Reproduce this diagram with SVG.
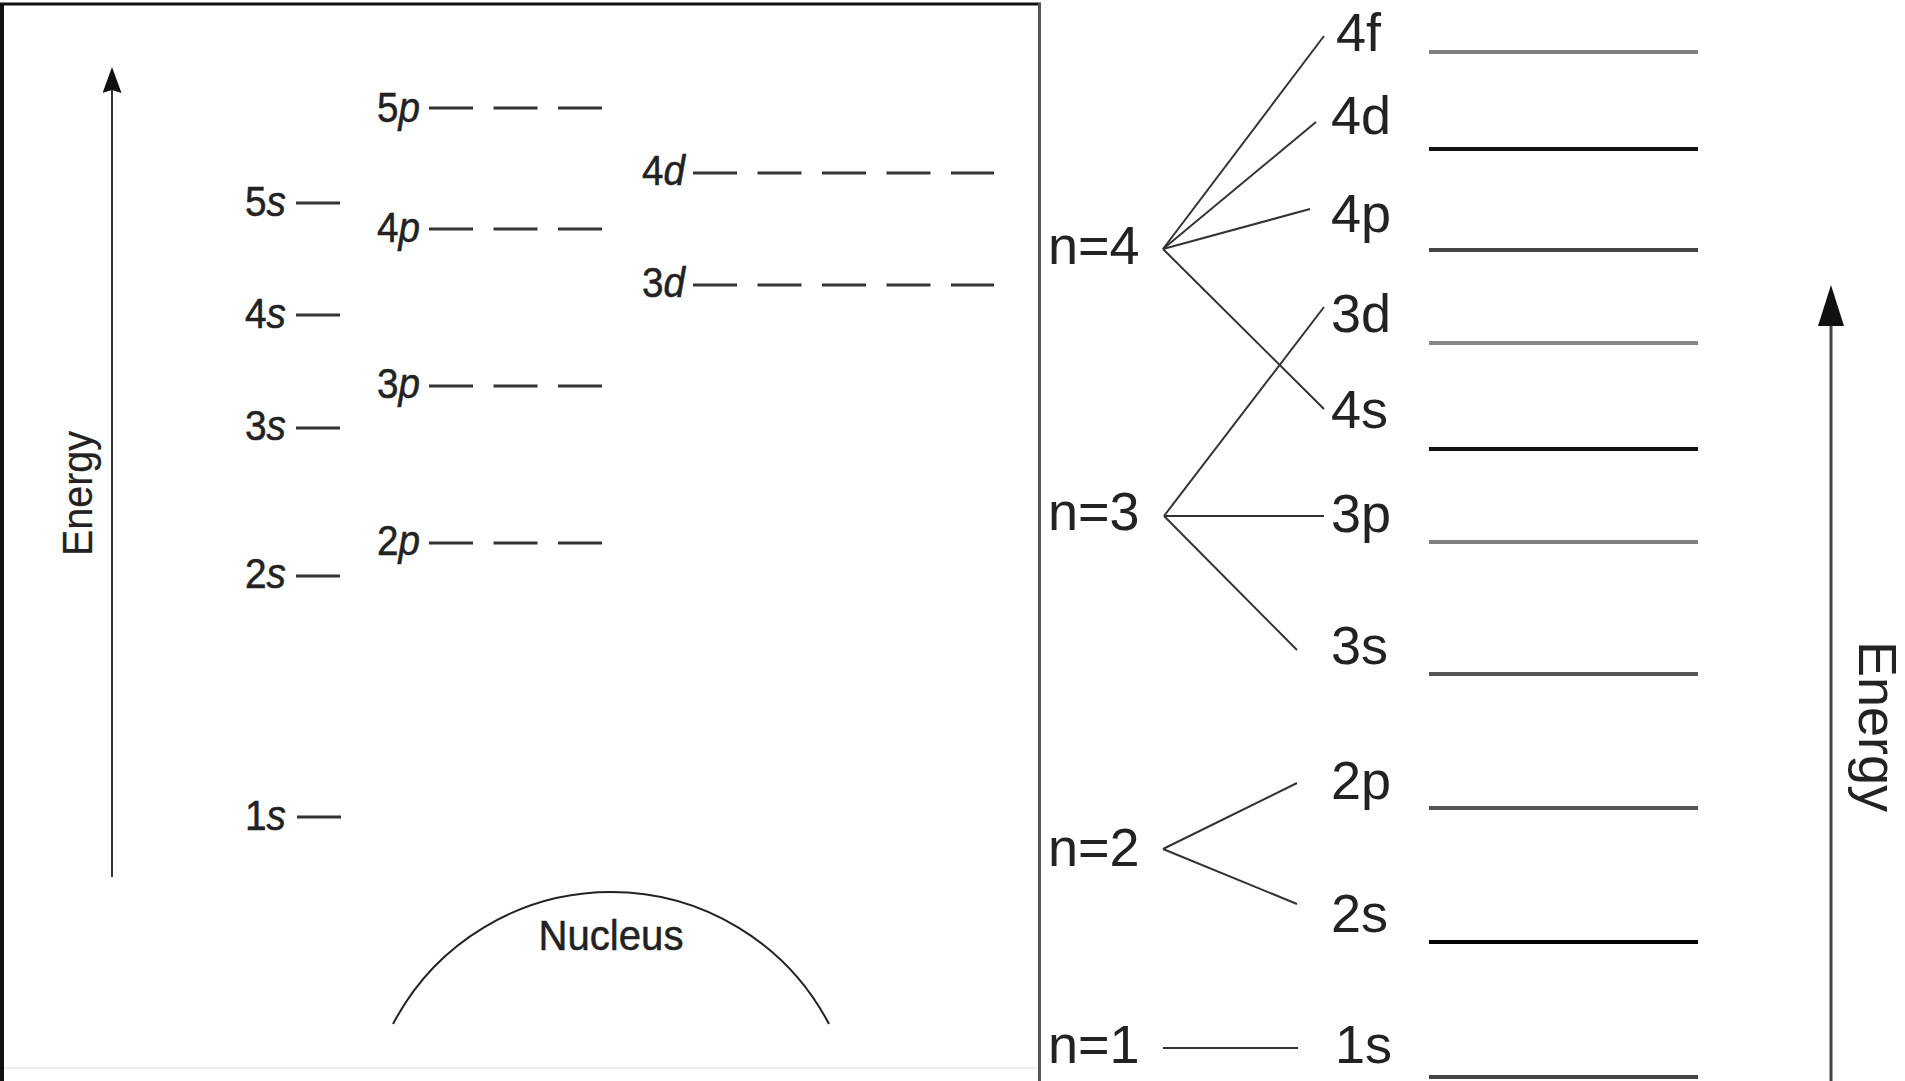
<svg xmlns="http://www.w3.org/2000/svg" width="1905" height="1081" viewBox="0 0 1905 1081">
<defs>
<style>
.lbl{font-family:"Liberation Sans",Arial,sans-serif;font-size:42px;fill:#222;stroke:#222;stroke-width:0.5}
.it{font-style:italic}
.dash{stroke:#333;stroke-width:3;stroke-dasharray:44 20.5;fill:none}
.sl{stroke:#333;stroke-width:3;fill:none}
.rl{font-family:"Liberation Sans",Arial,sans-serif;font-size:54px;fill:#222}
.conn{stroke:#333;stroke-width:2;fill:none}
.lv{fill:none;stroke-width:4}
</style>
<marker id="ahL" viewBox="0 0 26 19" markerWidth="26" markerHeight="19" refX="3" refY="9.5" markerUnits="userSpaceOnUse" orient="auto">
<path d="M0,0 L26,9.5 L0,19 L3,9.5 Z" fill="#111"/>
</marker>
<marker id="ahR" viewBox="0 0 41 26" markerWidth="41" markerHeight="26" refX="0" refY="13" markerUnits="userSpaceOnUse" orient="auto">
<path d="M0,0 L41,13 L0,26 Z" fill="#111"/>
</marker>
</defs>
<rect x="0" y="0" width="1905" height="1081" fill="#fff"/>

<g id="left-frame">
<line x1="0" y1="4" x2="1041" y2="4" stroke="#111" stroke-width="3"/>
<line x1="2" y1="3" x2="2" y2="1081" stroke="#111" stroke-width="4"/>
<line x1="1039.5" y1="3" x2="1039.5" y2="1081" stroke="#555" stroke-width="3"/>
<line x1="4" y1="1068" x2="1038" y2="1068" stroke="#eee" stroke-width="2"/>
</g>

<g id="left-energy-axis">
<line x1="112" y1="877" x2="112" y2="90" stroke="#333" stroke-width="2" marker-end="url(#ahL)"/>
<text class="lbl" transform="translate(92,556) rotate(-90)" textLength="125" lengthAdjust="spacingAndGlyphs" style="stroke-width:0.2">Energy</text>
</g>

<g id="lvl-5p"><text class="lbl" x="377" y="122" textLength="43" lengthAdjust="spacingAndGlyphs">5<tspan class="it">p</tspan></text><line class="dash" x1="429" y1="108" x2="603" y2="108"/></g>
<g id="lvl-4p"><text class="lbl" x="377" y="242" textLength="43" lengthAdjust="spacingAndGlyphs">4<tspan class="it">p</tspan></text><line class="dash" x1="429" y1="229" x2="603" y2="229"/></g>
<g id="lvl-3p"><text class="lbl" x="377" y="398" textLength="43" lengthAdjust="spacingAndGlyphs">3<tspan class="it">p</tspan></text><line class="dash" x1="429" y1="386" x2="603" y2="386"/></g>
<g id="lvl-2p"><text class="lbl" x="377" y="555" textLength="43" lengthAdjust="spacingAndGlyphs">2<tspan class="it">p</tspan></text><line class="dash" x1="429" y1="543" x2="603" y2="543"/></g>
<g id="lvl-5s"><text class="lbl" x="245" y="216" textLength="41" lengthAdjust="spacingAndGlyphs">5<tspan class="it">s</tspan></text><line class="sl" x1="296" y1="203" x2="340" y2="203"/></g>
<g id="lvl-4s"><text class="lbl" x="245" y="328" textLength="41" lengthAdjust="spacingAndGlyphs">4<tspan class="it">s</tspan></text><line class="sl" x1="296" y1="315" x2="340" y2="315"/></g>
<g id="lvl-3s"><text class="lbl" x="245" y="440" textLength="41" lengthAdjust="spacingAndGlyphs">3<tspan class="it">s</tspan></text><line class="sl" x1="296" y1="428" x2="340" y2="428"/></g>
<g id="lvl-2s"><text class="lbl" x="245" y="588" textLength="41" lengthAdjust="spacingAndGlyphs">2<tspan class="it">s</tspan></text><line class="sl" x1="296" y1="576" x2="340" y2="576"/></g>
<g id="lvl-1s"><text class="lbl" x="245" y="830" textLength="41" lengthAdjust="spacingAndGlyphs">1<tspan class="it">s</tspan></text><line class="sl" x1="297" y1="817" x2="341" y2="817"/></g>
<g id="lvl-4d"><text class="lbl" x="642" y="185" textLength="43" lengthAdjust="spacingAndGlyphs">4<tspan class="it">d</tspan></text><line class="dash" x1="693" y1="173" x2="994" y2="173"/></g>
<g id="lvl-3d"><text class="lbl" x="642" y="297" textLength="43" lengthAdjust="spacingAndGlyphs">3<tspan class="it">d</tspan></text><line class="dash" x1="693" y1="285" x2="994" y2="285"/></g>

<g id="nucleus">
<path d="M393,1024 A246,246 0 0 1 829,1024" fill="none" stroke="#222" stroke-width="2"/>
<text class="lbl" x="611" y="950" text-anchor="middle" textLength="145" lengthAdjust="spacingAndGlyphs">Nucleus</text>
</g>

<g id="shell-n4"><text class="rl" x="1048" y="264">n=4</text></g>
<g id="shell-n3"><text class="rl" x="1048" y="530">n=3</text></g>
<g id="shell-n2"><text class="rl" x="1048" y="866">n=2</text></g>
<g id="shell-n1"><text class="rl" x="1048" y="1063">n=1</text></g>

<g id="sub-4f"><text class="rl" x="1336" y="51">4f</text></g>
<g id="sub-4d"><text class="rl" x="1331" y="134">4d</text></g>
<g id="sub-4p"><text class="rl" x="1331" y="232">4p</text></g>
<g id="sub-3d"><text class="rl" x="1331" y="332">3d</text></g>
<g id="sub-4s"><text class="rl" x="1331" y="428">4s</text></g>
<g id="sub-3p"><text class="rl" x="1331" y="532">3p</text></g>
<g id="sub-3s"><text class="rl" x="1331" y="664">3s</text></g>
<g id="sub-2p"><text class="rl" x="1331" y="799">2p</text></g>
<g id="sub-2s"><text class="rl" x="1331" y="932">2s</text></g>
<g id="sub-1s"><text class="rl" x="1335" y="1063">1s</text></g>

<g id="energy-levels">
<line class="lv" x1="1429" y1="52" x2="1698" y2="52" stroke="#808080"/>
<line class="lv" x1="1429" y1="149" x2="1698" y2="149" stroke="#111" stroke-width="3"/>
<line class="lv" x1="1429" y1="250" x2="1698" y2="250" stroke="#444" stroke-width="3.5"/>
<line class="lv" x1="1429" y1="343" x2="1698" y2="343" stroke="#888"/>
<line class="lv" x1="1429" y1="449" x2="1698" y2="449" stroke="#111" stroke-width="3"/>
<line class="lv" x1="1429" y1="542" x2="1698" y2="542" stroke="#808080"/>
<line class="lv" x1="1429" y1="674" x2="1698" y2="674" stroke="#555"/>
<line class="lv" x1="1429" y1="808" x2="1698" y2="808" stroke="#555" stroke-width="3.5"/>
<line class="lv" x1="1429" y1="942" x2="1698" y2="942" stroke="#000" stroke-width="3"/>
<line class="lv" x1="1429" y1="1077" x2="1698" y2="1077" stroke="#444"/>
</g>

<g id="right-energy-axis">
<line x1="1831" y1="1081" x2="1831" y2="326" stroke="#444" stroke-width="3" marker-end="url(#ahR)"/>
<text class="rl" fill="#333" transform="translate(1859,641) rotate(90)">Energy</text>
</g>

<g id="connectors">
<line class="conn" x1="1163" y1="249" x2="1324" y2="36"/>
<line class="conn" x1="1163" y1="249" x2="1316" y2="122"/>
<line class="conn" x1="1163" y1="249" x2="1310" y2="209" stroke-width="2.5"/>
<line class="conn" x1="1163" y1="249" x2="1324" y2="409"/>
<line class="conn" x1="1164" y1="516" x2="1324" y2="307"/>
<line class="conn" x1="1164" y1="516" x2="1324" y2="516" stroke="#111" stroke-width="2.5"/>
<line class="conn" x1="1164" y1="516" x2="1297" y2="650"/>
<line class="conn" x1="1163" y1="849" x2="1297" y2="783"/>
<line class="conn" x1="1163" y1="849" x2="1297" y2="904"/>
<line class="conn" x1="1163" y1="1048" x2="1298" y2="1048" stroke="#444" stroke-width="4"/>
</g>
</svg>
